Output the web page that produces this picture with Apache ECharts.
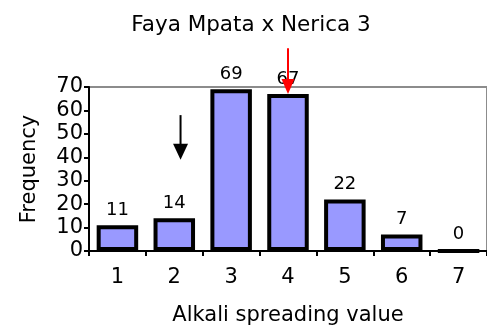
<!DOCTYPE html>
<html>
<head>
<meta charset="utf-8">
<script src="https://cdn.jsdelivr.net/npm/echarts@6/dist/echarts.min.js"></script>
<style>
  html, body { margin: 0; padding: 0; background: #fff; }
  #chart { width: 487px; height: 334px; }
</style>
</head>
<body>
<div id="chart"></div>
<script>
// Alkali spreading value classes and how many lines fell into each
const categories = ['1', '2', '3', '4', '5', '6', '7'];
const frequency = [11, 14, 69, 67, 22, 7, 0];
const yTicks = { min: 0, max: 70, interval: 10 };

// Arrow annotations: [category index offset, value at tail, value at tip]
const blackArrow = [1.11, 58, 39];
const redArrow = [3, 86.5, 67];

const FONT = 'DejaVu Sans';
const chart = echarts.init(document.getElementById('chart'), null, { renderer: 'canvas' });

chart.setOption({
  animation: false,
  backgroundColor: '#ffffff',
  textStyle: { fontFamily: FONT, color: '#000' },
  title: {
    text: 'Faya Mpata x Nerica 3',
    left: 246,
    textAlign: 'center',
    top: 9,
    textStyle: { fontFamily: FONT, fontSize: 21.5, fontWeight: 'normal', color: '#000' }
  },
  grid: {
    left: 89, right: 0, top: 87, bottom: 83,
    show: true, borderColor: '#8c8c8c', borderWidth: 2, backgroundColor: 'transparent'
  },
  xAxis: {
    type: 'category',
    data: categories,
    name: 'Alkali spreading value',
    nameLocation: 'middle',
    nameGap: 54,
    nameTextStyle: { fontFamily: FONT, fontSize: 21, color: '#000' },
    axisLine: { lineStyle: { color: '#000', width: 2 } },
    axisTick: { show: true, length: 5, lineStyle: { color: '#000', width: 2 } },
    axisLabel: { fontFamily: FONT, fontSize: 21, color: '#000', margin: 16 },
    splitLine: { show: false }
  },
  yAxis: {
    type: 'value',
    min: yTicks.min, max: yTicks.max, interval: yTicks.interval,
    name: 'Frequency',
    nameLocation: 'middle',
    nameGap: 49,
    nameTextStyle: { fontFamily: FONT, fontSize: 21, color: '#000' },
    axisLine: { show: true, lineStyle: { color: '#000', width: 2 } },
    axisTick: { show: true, length: 5, lineStyle: { color: '#000', width: 2 } },
    axisLabel: { fontFamily: FONT, fontSize: 21, color: '#000', margin: 6 },
    splitLine: { show: false }
  },
  series: [{
    type: 'bar',
    data: frequency,
    barCategoryGap: '27%',
    itemStyle: { color: '#9999ff', borderColor: '#000', borderWidth: 4 },
    label: {
      show: true, position: 'top', distance: 6,
      fontFamily: FONT, fontSize: 18, color: '#000'
    }
  }]
});

// Place the arrows through the grid's own scales
function toPx(catPos, value) {
  const i = Math.floor(catPos);
  const f = catPos - i;
  const a = chart.convertToPixel({ gridIndex: 0 }, [i, value]);
  if (f === 0) return a;
  const b = chart.convertToPixel({ gridIndex: 0 }, [i + 1, value]);
  return [a[0] + (b[0] - a[0]) * f, a[1]];
}

function arrow(spec, color, headW, headH) {
  const tail = toPx(spec[0], spec[1]);
  const tip = toPx(spec[0], spec[2]);
  return [
    {
      type: 'line', z: 100,
      shape: { x1: tail[0], y1: tail[1], x2: tip[0], y2: tip[1] - headH + 1 },
      style: { stroke: color, lineWidth: 2 }
    },
    {
      type: 'polygon', z: 100,
      shape: { points: [[tip[0] - headW / 2, tip[1] - headH], [tip[0] + headW / 2, tip[1] - headH], [tip[0], tip[1]]] },
      style: { fill: color }
    }
  ];
}

chart.setOption({
  graphic: [].concat(arrow(blackArrow, '#000000', 15, 16), arrow(redArrow, '#ff0000', 13, 15))
});
</script>
</body>
</html>
